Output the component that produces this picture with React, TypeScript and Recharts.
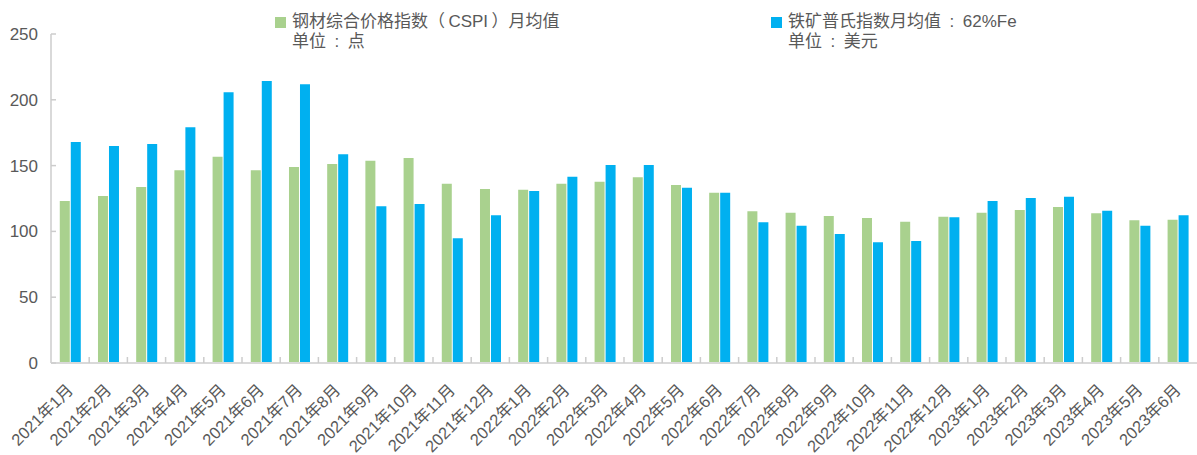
import { BarChart, Bar, XAxis, YAxis } from 'recharts'

const months = [
  '2021年1月', '2021年2月', '2021年3月', '2021年4月', '2021年5月', '2021年6月',
  '2021年7月', '2021年8月', '2021年9月', '2021年10月', '2021年11月', '2021年12月',
  '2022年1月', '2022年2月', '2022年3月', '2022年4月', '2022年5月', '2022年6月',
  '2022年7月', '2022年8月', '2022年9月', '2022年10月', '2022年11月', '2022年12月',
  '2023年1月', '2023年2月', '2023年3月', '2023年4月', '2023年5月', '2023年6月',
]

// 钢材综合价格指数（CSPI）月均值，单位：点
const cspi = [
  123.1, 126.9, 133.7, 146.4, 156.8, 146.4, 148.9, 151.2, 153.7, 155.8, 136.2, 132.2,
  131.7, 136.2, 137.8, 141.1, 135.3, 129.4, 115.3, 114.2, 111.7, 110.2, 107.4, 111.2,
  114.2, 116.3, 118.5, 113.7, 108.4, 108.9,
]

// 铁矿普氏指数月均值：62%Fe，单位：美元
const ironOre = [
  167.9, 164.9, 166.4, 179.1, 205.7, 214.3, 211.8, 158.6, 119.1, 120.8, 94.7, 112.2,
  130.7, 141.6, 150.5, 150.5, 133.2, 129.4, 106.9, 104.3, 98.0, 91.7, 92.7, 110.7,
  123.1, 125.4, 126.4, 115.7, 104.3, 112.2,
]

const yTicks = [0, 50, 100, 150, 200, 250]

const data = months.map((m, i) => ({ month: m, cspi: cspi[i], ore: ironOre[i] }))

const GREEN = '#A9D18E'
const BLUE = '#00B0F0'
const TEXT = '#595959'
const AXIS = '#D9D9D9'
const FONT = '"Liberation Sans", Arial, "Noto Sans CJK SC", sans-serif'

const W = 1197
const H = 455
const Y_AXIS_W = 51

function XTick(props: any) {
  const { x, y, payload, index } = props
  const half = payload?.offset ?? (W - Y_AXIS_W) / months.length / 2
  return (
    <g>
      {index > 0 && (
        <line x1={x - half} x2={x - half} y1={y} y2={y - 6} stroke="#CCCCCC" strokeWidth={1.5} />
      )}
      <text
        transform={`translate(${x + 4},${y + 28}) rotate(-45)`}
        textAnchor="end"
        fontSize={16.5}
        fill={TEXT}
        fontFamily={FONT}
      >
        {payload.value}
      </text>
    </g>
  )
}

function YTick(props: any) {
  const { x, y, payload } = props
  return (
    <g>
      <line x1={x} x2={x + 5} y1={y} y2={y} stroke="#CCCCCC" strokeWidth={1.5} />
      <text x={x - 13} y={y} dy={6} textAnchor="end" fontSize={17} fill={TEXT} fontFamily={FONT}>
        {payload.value}
      </text>
    </g>
  )
}

function LegendItem({ left, color, title, unit }: { left: number; color: string; title: string; unit: string }) {
  return (
    <div style={{ position: 'absolute', left, top: 12, fontFamily: FONT, fontSize: 17, color: TEXT, lineHeight: '20px' }}>
      <div style={{ position: 'absolute', left: 0, top: 5, width: 11, height: 11, background: color }} />
      <div style={{ marginLeft: 17, whiteSpace: 'nowrap' }}>{title}</div>
      <div style={{ marginLeft: 17, whiteSpace: 'nowrap' }}>{unit}</div>
    </div>
  )
}

export default function App() {
  return (
    <div style={{ position: 'absolute', left: 0, top: 0, width: W, height: H, background: '#fff', overflow: 'hidden' }}>
      <BarChart
        width={W}
        height={H}
        data={data}
        margin={{ top: 34, right: 0, bottom: 0, left: 0 }}
        barCategoryGap="23%"
        barGap={1}
      >
        <XAxis
          dataKey="month"
          interval={0}
          height={92}
          tickLine={false}
          tickSize={0}
          tickMargin={0}
          axisLine={{ stroke: AXIS, strokeWidth: 2 }}
          tick={<XTick />}
        />
        <YAxis
          width={Y_AXIS_W}
          domain={[0, 250]}
          ticks={yTicks}
          interval={0}
          tickLine={false}
          tickSize={0}
          tickMargin={0}
          axisLine={{ stroke: AXIS, strokeWidth: 2 }}
          tick={<YTick />}
        />
        <Bar dataKey="cspi" fill={GREEN} isAnimationActive={false} />
        <Bar dataKey="ore" fill={BLUE} isAnimationActive={false} />
      </BarChart>
      <LegendItem left={275} color={GREEN} title={'钢材综合价格指数（\u2009CSPI\u2009）月均值'} unit={'单位\u2002:\u2002点'} />
      <LegendItem left={771} color={BLUE} title={'铁矿普氏指数月均值\u2002:\u200262%Fe'} unit={'单位\u2002:\u2002美元'} />
    </div>
  )
}
